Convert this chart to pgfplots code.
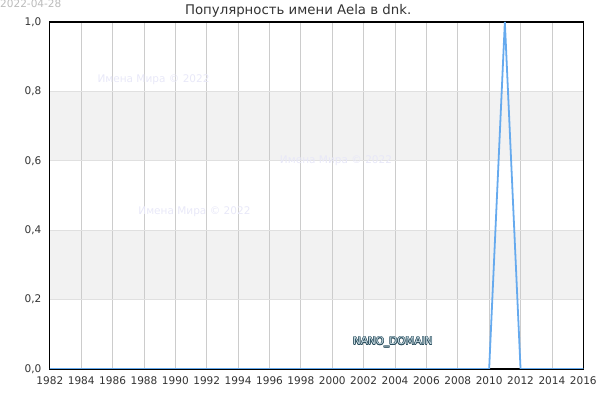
\documentclass[border=0pt]{standalone}
\usepackage{fontspec}
\setmainfont{DejaVu Sans}
\usepackage{pgfplots}
\pgfplotsset{compat=1.18}

\definecolor{txt}{HTML}{333333}
\definecolor{datec}{HTML}{BBBBBB}
\definecolor{band}{HTML}{F2F2F2}
\definecolor{bandline}{HTML}{E0E0E0}
\definecolor{vgrid}{HTML}{CCCCCC}
\definecolor{linec}{HTML}{66AAEE}
\definecolor{wm}{HTML}{E8E8F8}
\definecolor{nanodark}{HTML}{2A4D5C}
\definecolor{nanolight}{HTML}{C9DCE4}

\begin{document}
\begin{tikzpicture}[x=1bp,y=1bp]
% page = 600 x 400
\path (0,0) rectangle (600,400);

\begin{axis}[
  set layers,
  at={(50bp,30bp)}, anchor=south west,
  scale only axis, width=535bp, height=348bp,
  xmin=1982, xmax=2016, ymin=0, ymax=1,
  xtick={1982,1984,...,2016},
  ytick={0,0.2,...,1.0},
  axis line style={black, line width=1.2bp},
  major tick length=0pt,
  xmajorgrids, ymajorgrids,
  x grid style={vgrid, line width=0.8bp},
  y grid style={bandline, line width=0.8bp},
  tick label style={font=\fontsize{10.6}{12}\selectfont, text=txt},
  /pgf/number format/assume math mode=true,
  xticklabel style={/pgf/number format/1000 sep={}, yshift=-4bp},
  yticklabel style={/pgf/number format/.cd, use comma, fixed, fixed zerofill, precision=1, /tikz/.cd, xshift=-5bp},
]
\pgfplotsextra{%
  \pgfonlayer{axis background}
  \fill[band] (axis cs:1982,0.2) rectangle (axis cs:2016,0.4);
  \fill[band] (axis cs:1982,0.6) rectangle (axis cs:2016,0.8);
  \endpgfonlayer
}

\addplot[linec, line width=1.8bp] coordinates {
  (1982,0) (1983,0) (1984,0) (1985,0) (1986,0) (1987,0) (1988,0) (1989,0)
  (1990,0) (1991,0) (1992,0) (1993,0) (1994,0) (1995,0) (1996,0) (1997,0)
  (1998,0) (1999,0) (2000,0) (2001,0) (2002,0) (2003,0) (2004,0) (2005,0)
  (2006,0) (2007,0) (2008,0) (2009,0) (2010,0) (2011,1) (2012,0) (2013,0)
  (2014,0) (2015,0) (2016,0)
};
\end{axis}

% title and date
\node[text=txt, font=\fontsize{13.4}{15}\selectfont] at (299,389) {Популярность имени Aela в dnk.};
\node[text=datec, font=\fontsize{10.6}{12}\selectfont, anchor=base west, inner sep=0] at (0,392) {2022-04-28};

% watermarks
\begin{scope}[every node/.style={text=wm, font=\fontsize{10.6}{12}\selectfont}]
  \node at (154,320) {Имена Мира © 2022};
  \node at (337,239) {Имена Мира © 2022};
  \node at (195,188) {Имена Мира © 2022};
\end{scope}

% NANO_DOMAIN label
\foreach \dx/\dy in {-0.6/0,0.6/0,0/-0.6,0/0.6,-0.45/-0.45,0.45/0.45,-0.45/0.45,0.45/-0.45}
  \node[text=nanodark, font=\fontsize{10.5}{12}\selectfont] at (394+\dx,57+\dy) {NANO\_DOMAIN};
\node[text=nanolight, font=\fontsize{10.5}{12}\selectfont] at (394,57) {NANO\_DOMAIN};
\end{tikzpicture}
\end{document}
